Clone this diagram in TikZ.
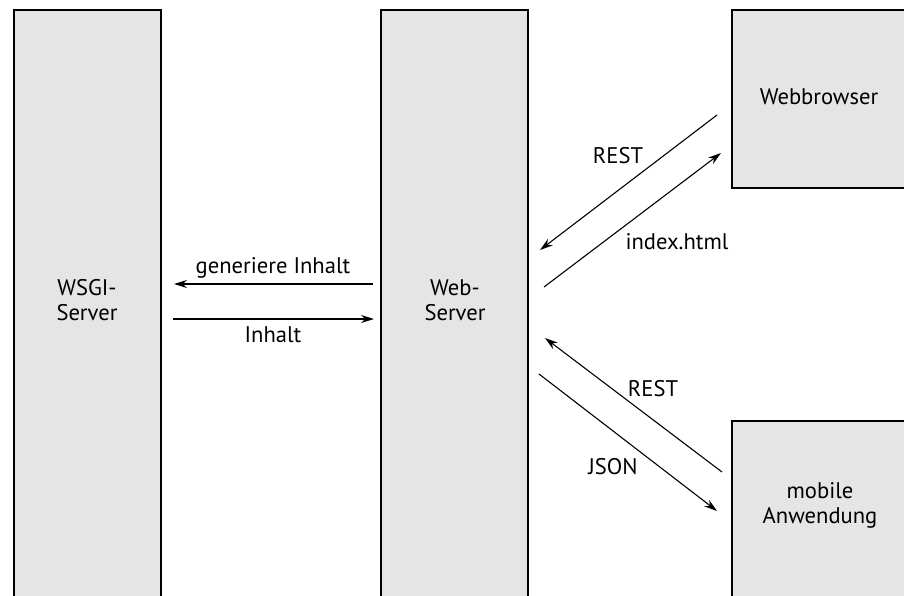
\documentclass[tikz,border=0pt]{standalone}
\usepackage{fontspec}
\setmainfont{PT Sans}
\usetikzlibrary{arrows.meta}
\definecolor{boxgray}{RGB}{229,229,229}

\begin{document}
\begin{tikzpicture}[
  x=0.5pt,y=-0.5pt,
  font=\fontsize{11.3}{12.5}\selectfont,
  srvbox/.style={rectangle,draw=black,line width=0.9pt,fill=boxgray,anchor=north west,inner sep=0pt},
  txt/.style={align=center,inner sep=1pt},
  msg/.style={-{Stealth[length=6.5pt,width=4pt]},line width=0.55pt}
]
  \useasboundingbox (0,0) rectangle (904,595);
  \begin{scope}
  \clip (0,0) rectangle (904,595);
  % boxes
  \node[srvbox,minimum width=73.5pt,minimum height=330pt] (wsgi) at (13,9) {};
  \node[srvbox,minimum width=73.5pt,minimum height=330pt] (websrv) at (380,9) {};
  \node[srvbox,minimum width=88pt,minimum height=89pt] (browser) at (731,9) {};
  \node[srvbox,minimum width=88pt,minimum height=120pt] (mobile) at (731,420) {};
  \end{scope}

  % box texts
  \node[txt] (wsgitxt) at (87,300) {WSGI-\\Server};
  \node[txt] (webtxt) at (455,300) {Web-\\Server};
  \node[txt] (browsertxt) at (819,97) {Webbrowser};
  \node[txt] (mobiletxt) at (820,505) {mobile\\Anwendung};

  % arrow ends
  \coordinate (g1) at (373,284);
  \coordinate (g2) at (174,284);
  \coordinate (i1) at (173,319);
  \coordinate (i2) at (374,319);
  \coordinate (r1) at (717,115);
  \coordinate (r2) at (540,250);
  \coordinate (h1) at (544,287);
  \coordinate (h2) at (721,153);
  \coordinate (r3) at (722,472);
  \coordinate (r4) at (545,338);
  \coordinate (j1) at (539,374);
  \coordinate (j2) at (717,511);

  % messages
  \draw[msg] (g1) -- (g2);
  \draw[msg] (i1) -- (i2);
  \draw[msg] (r1) -- (r2);
  \draw[msg] (h1) -- (h2);
  \draw[msg] (r3) -- (r4);
  \draw[msg] (j1) -- (j2);

  \node[txt] (lgen) at (273,268) {generiere Inhalt};
  \node[txt] (linh) at (273,335) {Inhalt};
  \node[txt] (lrest1) at (618,156) {REST};
  \node[txt] (lhtml) at (677,242) {index.html};
  \node[txt] (lrest2) at (653,389) {REST};
  \node[txt] (ljson) at (613,467) {JSON};
\end{tikzpicture}
\end{document}
